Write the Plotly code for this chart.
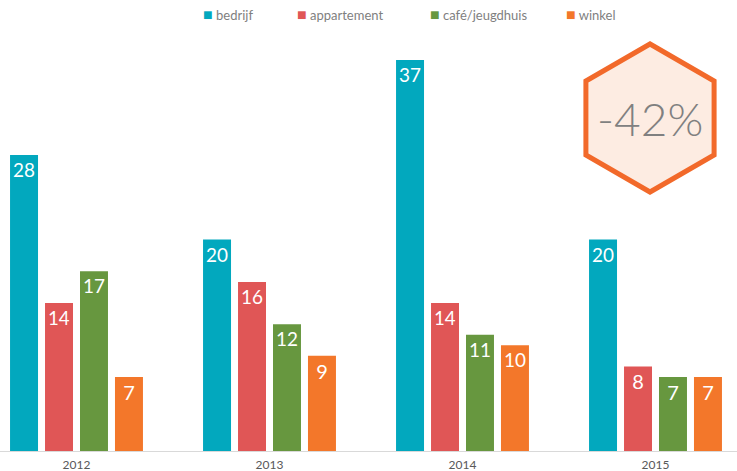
import math
import plotly.graph_objects as go

years = ["2012", "2013", "2014", "2015"]
bedrijf = [28, 20, 37, 20]
appartement = [14, 16, 14, 8]
cafe = [17, 12, 11, 7]
winkel = [7, 9, 10, 7]

series_names = ["bedrijf", "appartement", "café/jeugdhuis", "winkel"]
series_values = [bedrijf, appartement, cafe, winkel]
series_colors = ["#02A8BE", "#E05656", "#67973F", "#F3772A"]
badge_text = "-42%"

FONT = "Lato, 'Open Sans', sans-serif"

W, H = 737, 471
ml, mr, mt, mb = 0, 0, 30, 20
pw, ph = W - ml - mr, H - mt - mb

fig = go.Figure()
for name, vals, col in zip(series_names, series_values, series_colors):
    fig.add_trace(go.Bar(
        x=years, y=vals, name=name,
        marker=dict(color=col, line=dict(width=0)),
        text=[str(v) for v in vals],
        textposition="inside", insidetextanchor="end",
        textangle=0,
        textfont=dict(color="white", size=20, family=FONT),
        showlegend=False,
    ))

# custom legend (small squares) as annotations
legend_x = [201, 295, 428, 564]
for name, col, lx in zip(series_names, series_colors, legend_x):
    fig.add_annotation(
        text=f"<span style='color:{col};font-size:16px'>■</span> {name}",
        xref="paper", yref="paper",
        x=(lx - ml) / pw, y=(H - mb - 13) / ph,
        xanchor="left", yanchor="middle", showarrow=False,
        font=dict(size=13, color="#7F7F7F", family=FONT),
    )

# hexagon badge (pointy-top), pixel-sized around an anchor
R = 74
pts = []
for k in range(6):
    ang = math.radians(90 + 60 * k)
    pts.append((R * math.cos(ang), R * math.sin(ang)))
path = "M " + " L ".join(f"{px:.2f},{py:.2f}" for px, py in pts) + " Z"

cx, cy = 650, 118
fig.add_shape(
    type="path", path=path,
    xref="paper", yref="paper",
    xsizemode="pixel", ysizemode="pixel",
    xanchor=(cx - ml) / pw, yanchor=(H - mb - cy) / ph,
    line=dict(color="#F2692A", width=5),
    fillcolor="#FDECE2", layer="above",
)
fig.add_annotation(
    text=badge_text, xref="paper", yref="paper",
    x=(cx - ml) / pw, y=(H - mb - cy) / ph,
    showarrow=False, font=dict(size=46, color="#808080", family=FONT, weight=300),
    xanchor="center", yanchor="middle",
)

px_per_cat = 193.0
c0 = 76.5
fig.update_layout(
    width=W, height=H,
    margin=dict(l=ml, r=mr, t=mt, b=mb, pad=0),
    paper_bgcolor="white", plot_bgcolor="white",
    barmode="group", bargap=0.275, bargroupgap=0.2,
    font=dict(family=FONT, color="#7F7F7F"),
    showlegend=False,
    xaxis=dict(
        type="category",
        range=[(0 - c0) / px_per_cat, (W - c0) / px_per_cat],
        showgrid=False, zeroline=False,
        showline=True, linecolor="#D9D9D9", linewidth=1,
        ticks="", tickfont=dict(size=12, color="#595959"),
        ticklabelstandoff=3,
        fixedrange=True,
    ),
    yaxis=dict(
        range=[0, 39.83], visible=False, showgrid=False, zeroline=False,
        fixedrange=True,
    ),
)

fig.write_html(
    "out.html",
    config={"displayModeBar": False},
    post_script="document.body.style.margin='0';document.body.style.padding='0';",
)
